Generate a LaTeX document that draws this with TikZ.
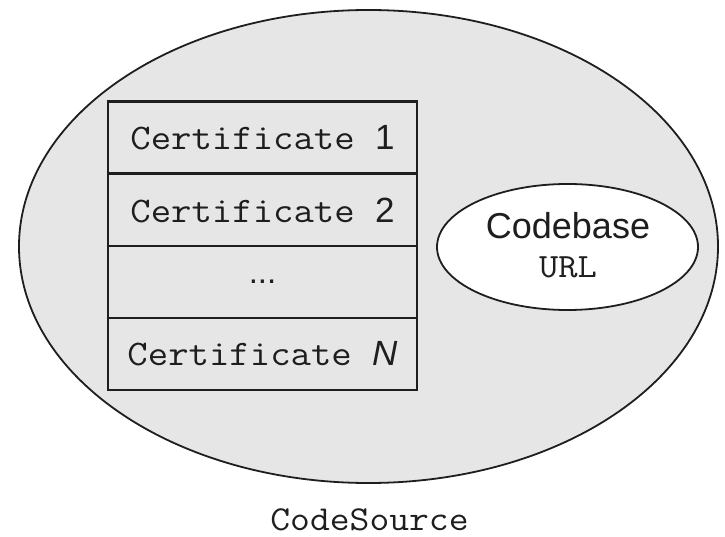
\documentclass[tikz,border=0pt]{standalone}
\usepackage{fontspec}
\setmainfont{Liberation Sans}
\setsansfont{Liberation Sans}
\setmonofont[FakeStretch=1.1]{Latin Modern Mono}
\usetikzlibrary{shapes.geometric}
\definecolor{bggray}{HTML}{E6E6E6}
\definecolor{inkc}{HTML}{1E1E1E}
\tikzset{
  outer/.style={ellipse, draw=inkc, line width=1.8pt, fill=bggray, minimum width=699pt, minimum height=473pt, inner sep=0pt},
  cell/.style={rectangle, draw=inkc, line width=2.4pt, fill=bggray, minimum width=309pt, minimum height=72pt, inner sep=0pt, text=inkc},
  inner/.style={ellipse, draw=inkc, line width=1.8pt, fill=white, minimum width=261pt, minimum height=126pt, inner sep=0pt},
  monotxt/.style={font=\fontsize{36}{40}\selectfont\ttfamily, text=inkc},
  sanstxt/.style={font=\fontsize{36}{42}\selectfont\sffamily, text=inkc}
}
\newcommand{\digit}[1]{{\fontsize{35}{40}\selectfont\sffamily #1}}
\begin{document}
\begin{tikzpicture}[x=1pt,y=-1pt]
\useasboundingbox (0,0) rectangle (725,537);
\node[outer] (cs) at (368.5,246.5) {};
\node[cell, monotxt] (c1) at (262.5,137.5) {Certificate \digit{1}};
\node[cell, monotxt] (c2) at (262.5,210) {Certificate \digit{2}};
\node[cell] (c3) at (262.5,282) {\fontsize{33}{38}\selectfont\sffamily ...};
\node[cell, monotxt] (c4) at (262.5,354) {Certificate \digit{\itshape N}};
\node[inner] (cb) at (567.5,247) {};
\node[sanstxt, anchor=base, inner sep=0pt] (cbt) at (568,239) {Codebase};
\node[font=\fontsize{34}{38}\selectfont\ttfamily, text=inkc, anchor=base, inner sep=0pt] (url) at (568,277) {URL};
\node[font=\fontsize{35}{40}\selectfont\ttfamily, text=inkc, anchor=base, inner sep=0pt] (lbl) at (369.5,530) {CodeSource};
\end{tikzpicture}
\end{document}
